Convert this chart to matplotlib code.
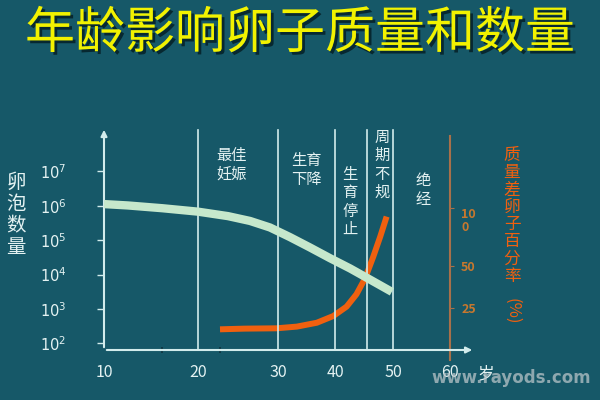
import numpy as np
import matplotlib
matplotlib.use('Agg')
import matplotlib.pyplot as plt
import matplotlib.patheffects as pe

plt.rcParams['font.family'] = ['Noto Sans CJK SC', 'DejaVu Sans']
plt.rcParams['mathtext.fontset'] = 'dejavusans'

# ---- data ----
age_green = [10, 12.55, 16.2, 20, 23.75, 26.5, 29, 32.1, 35.6, 39.1, 42.6, 46.0, 49.8]
log_follicles = [6.05, 6.01, 5.93, 5.83, 5.70, 5.56, 5.37, 5.09, 4.79, 4.48, 4.18, 3.86, 3.50]

age_orange = [22.75, 25.8, 29.8, 33.3, 36.8, 39.7, 42.0, 43.7, 45.2, 46.6, 47.8, 48.9]
bad_pct = [12.3, 12.7, 12.9, 13.9, 16.2, 20.2, 25.8, 33.2, 42.8, 58.2, 75.4, 92.6]

x_ticks = [10, 20, 30, 40, 50, 60]
y_exps = [2, 3, 4, 5, 6, 7]
r_ticks = [25, 50, 100]
r_labels = ['25', '50', '10\n0']
stage_lines = [20, 30, 40, 45.5, 50]

bg = '#165868'
axis_col = '#d2ecec'
txt_col = '#e4f2f2'
green = '#c6e8cc'
orange = '#f0600f'
brown = '#a8704a'

# the age axis of the original is not evenly spaced
AGE_K = [0, 10, 20, 30, 40, 50, 60, 80]
PX_K = [10, 104, 198, 278, 335, 393, 450, 564]
def xf(a):
    return np.interp(a, AGE_K, PX_K)
def xi(p):
    return np.interp(p, PX_K, AGE_K)

# same for the right-hand percentage axis
P_K = [-50, 0, 25, 50, 100, 200]
Q_K = [-59.2, 0, 29.6, 59, 100, 182]
def rf(v):
    return np.interp(v, P_K, Q_K)
def ri(q):
    return np.interp(q, Q_K, P_K)

fig = plt.figure(figsize=(6, 4), dpi=100, facecolor=bg)
ax = fig.add_axes([104/600, 50/400, 346/600, 223/400])
ax.set_facecolor(bg)
ax.set_xscale('function', functions=(xf, xi))
ax.set_yscale('log')
ax.set_xlim(10, 60)
ylo, yhi = 10**1.81, 10**8.29
ax.set_ylim(ylo, yhi)

for s in ax.spines.values():
    s.set_visible(False)

# axes with arrows
ax.annotate('', xy=(64.4, ylo), xytext=(10, ylo), annotation_clip=False,
            arrowprops=dict(arrowstyle='-|>', color=axis_col, lw=1.5, mutation_scale=9))
ax.annotate('', xy=(10, yhi), xytext=(10, ylo), annotation_clip=False,
            arrowprops=dict(arrowstyle='-|>', color=axis_col, lw=1.5, mutation_scale=9))

for xv in stage_lines:
    ax.axvline(xv, ymin=0, ymax=0.987, color=axis_col, lw=1.2)

ax.plot(age_green, [10**v for v in log_follicles], color=green, lw=6,
        solid_capstyle='butt', solid_joinstyle='round', zorder=3)

ax.set_xticks(x_ticks)
ax.set_xticklabels([str(v) for v in x_ticks])
ax.set_xticks([16.2, 22.75, 30, 40, 50], minor=True)
ax.tick_params(axis='x', which='major', length=0, pad=10, labelsize=11.5, colors=txt_col)
ax.tick_params(axis='x', which='minor', length=4, width=1.2, direction='inout', color='#0e3440')

ax.set_yticks([10.0**e for e in y_exps])
ax.set_yticklabels([r'$10^{%d}$' % e for e in y_exps])
ax.yaxis.set_minor_locator(matplotlib.ticker.NullLocator())
ax.tick_params(axis='y', which='major', length=5, width=1, direction='out',
               color=axis_col, pad=22, labelsize=10.5, labelcolor=txt_col)

# right axis
ax2 = ax.twinx()
ax2.set_yscale('function', functions=(rf, ri))
ax2.set_ylim(0, 169.5)
for k in ['left', 'top', 'bottom']:
    ax2.spines[k].set_visible(False)
ax2.spines['right'].set_color(brown)
ax2.spines['right'].set_linewidth(1.5)
ax2.spines['right'].set_bounds(-6, 162)
ax2.plot(age_orange, bad_pct, color=orange, lw=4.3, solid_capstyle='butt',
         solid_joinstyle='round', zorder=4)
ax2.set_yticks(r_ticks)
ax2.set_yticklabels(r_labels, linespacing=1.0)
ax2.yaxis.set_minor_locator(matplotlib.ticker.NullLocator())
ax2.tick_params(axis='y', length=3, color=brown, pad=5, labelsize=9, labelcolor='#c8782e')
for lab in ax2.get_yticklabels():
    lab.set_fontweight('bold')
    if '\n' in lab.get_text():
        lab.set_va('top')
ax.set_zorder(2)
ax.patch.set_visible(False)
ax2.set_zorder(1)

# title
fig.text(0.5, 1 - 34/400, '年龄影响卵子质量和数量', ha='center', va='center',
         fontsize=36, fontweight='medium', color='#f2f200',
         path_effects=[pe.withSimplePatchShadow(offset=(2, -2), shadow_rgbFace='#06232a', alpha=0.9)])

# axis titles
fig.text(16/600, 1 - 215/400, '卵\n泡\n数\n量', ha='center', va='center',
         fontsize=14, color=txt_col, linespacing=1.05)
fig.text(512/600, 1 - 216/400, '质\n量\n差\n卵\n子\n百\n分\n率', ha='center', va='center',
         fontsize=12, color=orange, linespacing=1.02)
fig.text(512/600, 1 - 311/400, '(%)', ha='center', va='center', rotation=-90,
         fontsize=12, color=orange)
fig.text(486/600, 1 - 374/400, '岁', ha='center', va='center', fontsize=12, color=txt_col)

# stage labels
stage_txt = [(232, 165, '最佳\n妊娠'), (306, 170, '生育\n下降'), (350, 202, '生\n育\n停\n止'),
             (382, 165, '周\n期\n不\n规'), (423, 190, '绝\n经')]
for px, py, s in stage_txt:
    fig.text(px/600, 1 - py/400, s, ha='center', va='center', fontsize=11,
             color=txt_col, linespacing=1.1)

# watermark
fig.text(511/600, 1 - 378/400, 'www.rayods.com', ha='center', va='center', fontsize=12,
         fontweight='bold', color='#b8c4c8', alpha=0.75, family='DejaVu Sans')

fig.savefig('out.png', dpi=100, facecolor=bg)
